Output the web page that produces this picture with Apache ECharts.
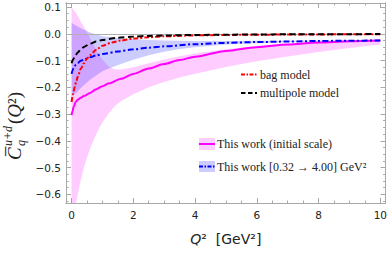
<!DOCTYPE html>
<html><head><meta charset="utf-8">
<script src="https://cdn.jsdelivr.net/npm/echarts@6/dist/echarts.min.js"></script>
<style>html,body{margin:0;padding:0;background:#fff}#c{width:390px;height:253px}</style>
</head><body><div id="c"></div>
<script>
// ---- data ----
const initQ   = [0, 0.03, 0.07, 0.14, 0.2, 0.3, 0.4, 0.6, 0.8, 1.0, 1.2, 1.6, 2.0, 2.5, 3.0, 3.5, 4.0, 5.0, 6.0, 7.0, 8.0, 9.0, 10.0];
const initVal = [-0.304, -0.29, -0.272, -0.254, -0.247, -0.239, -0.233, -0.221, -0.207, -0.196, -0.186, -0.168, -0.150, -0.130, -0.113, -0.098, -0.086, -0.064, -0.050, -0.040, -0.033, -0.028, -0.025];

const evolQ   = [0, 0.03, 0.07, 0.14, 0.2, 0.3, 0.4, 0.6, 0.8, 1.0, 1.5, 2.0, 2.5, 3.0, 4.0, 5.0, 6.0, 7.0, 8.0, 9.0, 10.0];
const evolVal = [-0.150, -0.138, -0.126, -0.116, -0.109, -0.101, -0.096, -0.088, -0.081, -0.076, -0.066, -0.058, -0.052, -0.047, -0.039, -0.034, -0.031, -0.029, -0.027, -0.026, -0.025];

const bagQ   = [0, 0.05, 0.1, 0.15, 0.2, 0.3, 0.4, 0.5, 0.6, 0.8, 1.0, 1.3, 1.6, 2.0, 2.5, 3.0, 4.0, 5.0, 6.0, 7.0, 8.0, 9.0, 10.0];
const bagVal = [-0.255, -0.225, -0.200, -0.180, -0.160, -0.131, -0.110, -0.093, -0.080, -0.060, -0.045, -0.033, -0.025, -0.018, -0.013, -0.0095, -0.006, -0.0045, -0.0035, -0.003, -0.0025, -0.002, -0.002];

const multiQ   = [0, 0.05, 0.1, 0.2, 0.3, 0.4, 0.6, 0.8, 1.0, 1.5, 2.0, 2.5, 3.0, 4.0, 5.0, 6.0, 7.0, 8.0, 9.0, 10.0];
const multiVal = [-0.110, -0.097, -0.086, -0.070, -0.058, -0.049, -0.037, -0.029, -0.023, -0.015, -0.0105, -0.008, -0.0065, -0.0045, -0.0033, -0.0026, -0.002, -0.0017, -0.0014, -0.0012];

const bandQ    = [0, 0.05, 0.1, 0.14, 0.2, 0.3, 0.4, 0.5, 0.6, 0.75, 0.9, 1.0, 1.2, 1.4, 1.6, 2.0, 2.5, 3.0, 3.5, 4.0, 5.0, 6.0, 7.0, 8.0, 9.0, 10.0];
const initHigh = [0.100, 0.092, 0.084, 0.078, 0.066, 0.046, 0.026, 0.005, -0.017, -0.050, -0.080, -0.097, -0.122, -0.133, -0.134, -0.125, -0.110, -0.096, -0.084, -0.074, -0.058, -0.046, -0.037, -0.031, -0.026, -0.023];
const initLow  = [-0.76, -0.72, -0.67, -0.635, -0.600, -0.547, -0.500, -0.462, -0.430, -0.388, -0.352, -0.332, -0.298, -0.270, -0.252, -0.226, -0.200, -0.180, -0.163, -0.149, -0.124, -0.103, -0.085, -0.068, -0.053, -0.040];
const evolHigh = [0.040, 0.037, 0.034, 0.031, 0.027, 0.021, 0.015, 0.010, 0.005, -0.001, -0.006, -0.009, -0.012, -0.015, -0.017, -0.020, -0.023, -0.025, -0.026, -0.027, -0.027, -0.026, -0.026, -0.025, -0.025, -0.024];
const evolLow  = [-0.235, -0.230, -0.225, -0.222, -0.215, -0.203, -0.192, -0.182, -0.172, -0.160, -0.148, -0.140, -0.130, -0.121, -0.113, -0.097, -0.080, -0.067, -0.057, -0.050, -0.040, -0.035, -0.031, -0.029, -0.027, -0.026];

const xTickLabels = [0, 2, 4, 6, 8, 10];
const yTickLabels = [-0.6, -0.5, -0.4, -0.3, -0.2, -0.1, 0.0, 0.1];

// ---- layout ----
const XMIN = -0.18, XMAX = 10.17, YMIN = -0.6325, YMAX = 0.115;
const FRAME = '#a8a8a8';
const xMinor = []; for (let i = 0; i <= 20; i++) { const v = i * 0.5; if (v % 2 !== 0) xMinor.push(v); }
const yMinor = []; for (let i = -25; i <= 4; i++) { const v = i * 0.025; if (Math.abs(v * 10 - Math.round(v * 10)) > 1e-6) yMinor.push(+v.toFixed(3)); }

const zip = (a, b) => a.map((q, i) => [q, b[i]]);

function xAxisDef(pos, major, labels) {
  return {
    type: 'value', position: pos, min: XMIN, max: XMAX,
    axisLine: { show: true, onZero: false, lineStyle: { color: FRAME, width: 1 } },
    axisTick: { show: true, inside: true, length: major ? 5 : 2.5, customValues: major ? xTickLabels : xMinor, lineStyle: { color: FRAME, width: 1 } },
    axisLabel: labels ? { show: true, customValues: xTickLabels, margin: 6, color: '#222', fontFamily: 'DejaVu Sans', fontSize: 10.5, formatter: v => String(v) } : { show: false },
    splitLine: { show: false }
  };
}
function yAxisDef(pos, major, labels) {
  return {
    type: 'value', position: pos, min: YMIN, max: YMAX,
    axisLine: { show: true, onZero: false, lineStyle: { color: FRAME, width: 1 } },
    axisTick: { show: true, inside: true, length: major ? 5 : 2.5, customValues: major ? yTickLabels : yMinor, lineStyle: { color: FRAME, width: 1 } },
    axisLabel: labels ? { show: true, customValues: yTickLabels, margin: 5, color: '#222', fontFamily: 'DejaVu Sans', fontSize: 10.5,
      formatter: v => (v < -1e-9 ? '\u2212' : '') + Math.abs(v).toFixed(1) } : { show: false },
    splitLine: { show: false }
  };
}

const xAx = [xAxisDef('bottom', true, true), xAxisDef('bottom', false, false), xAxisDef('top', true, false), xAxisDef('top', false, false)];
xAx[0].name = '{i|Q}\u00b2  [GeV\u00b2]';
xAx[0].nameLocation = 'middle';
xAx[0].nameGap = 29;
xAx[0].nameTextStyle = { fontFamily: 'DejaVu Sans', fontSize: 14, color: '#222', rich: { i: { fontFamily: 'DejaVu Sans', fontStyle: 'italic', fontSize: 14, color: '#222' } } };
const yAx = [yAxisDef('left', true, true), yAxisDef('left', false, false), yAxisDef('right', true, false), yAxisDef('right', false, false)];

function bandSeries(name, low, high, color, z) {
  return {
    type: 'custom', name: name, z: z, silent: true,
    data: bandQ.map((q, i) => [q, low[i], high[i]]),
    encode: { x: 0, y: [1, 2] },
    renderItem: function (params, api) {
      if (params.dataIndex !== 0) return null;
      const up = bandQ.map((q, i) => api.coord([q, high[i]]));
      const dn = bandQ.map((q, i) => api.coord([q, low[i]])).reverse();
      const cs = params.coordSys;
      return {
        type: 'polygon', shape: { points: up.concat(dn) }, style: { fill: color },
        clipPath: { type: 'rect', shape: { x: cs.x, y: cs.y, width: cs.width, height: cs.height } }
      };
    }
  };
}

const series = [
  bandSeries('initBand', initLow, initHigh, 'rgba(255,0,255,0.2)', 1),
  bandSeries('evolBand', evolLow, evolHigh, 'rgba(0,0,255,0.2)', 1),
  { type: 'line', name: 'This work (initial scale)', data: zip(initQ, initVal), symbol: 'none', smooth: 0.3, smoothMonotone: 'x', z: 3,
    lineStyle: { color: '#ff00ff', width: 2 },
    markLine: { silent: true, symbol: 'none', label: { show: false }, lineStyle: { color: '#b0b0b0', width: 1, type: 'solid' }, data: [{ yAxis: 0 }], z: 2 } },
  { type: 'line', name: 'This work evolved', data: zip(evolQ, evolVal), symbol: 'none', smooth: 0.3, smoothMonotone: 'x', z: 4,
    lineStyle: { color: '#0000ff', width: 2, type: [6, 2.5, 2, 2.5] } },
  { type: 'line', name: 'bag model', data: zip(bagQ, bagVal), symbol: 'none', smooth: 0.3, smoothMonotone: 'x', z: 5,
    lineStyle: { color: '#ff0000', width: 2, type: [5, 2, 2, 2] } },
  { type: 'line', name: 'multipole model', data: zip(multiQ, multiVal), symbol: 'none', smooth: 0.3, smoothMonotone: 'x', z: 6,
    lineStyle: { color: '#000000', width: 2, type: [6, 3.5] } }
];

const serif = 'Liberation Serif';
const graphic = [
  // legend
  { type: 'line', shape: { x1: 241, y1: 74.5, x2: 257, y2: 74.5 }, style: { stroke: '#ff0000', lineWidth: 2, lineDash: [4, 1.5, 1.5, 1.5] } },
  { type: 'text', x: 260, y: 74.5, style: { text: 'bag model', font: '12px "Liberation Serif"', fill: '#222', verticalAlign: 'middle' } },
  { type: 'line', shape: { x1: 241, y1: 93, x2: 257, y2: 93 }, style: { stroke: '#000', lineWidth: 2, lineDash: [4.5, 2.5] } },
  { type: 'text', x: 260, y: 93, style: { text: 'multipole model', font: '12px "Liberation Serif"', fill: '#222', verticalAlign: 'middle' } },
  { type: 'rect', shape: { x: 199, y: 138, width: 16, height: 12 }, style: { fill: 'rgba(255,0,255,0.2)' } },
  { type: 'line', shape: { x1: 199, y1: 144, x2: 215, y2: 144 }, style: { stroke: '#ff00ff', lineWidth: 2 } },
  { type: 'text', x: 217, y: 144, style: { text: 'This work (initial scale)', font: '12px "Liberation Serif"', fill: '#222', verticalAlign: 'middle' } },
  { type: 'rect', shape: { x: 199, y: 161, width: 16, height: 11 }, style: { fill: 'rgba(0,0,255,0.2)' } },
  { type: 'line', shape: { x1: 199, y1: 166.5, x2: 215, y2: 166.5 }, style: { stroke: '#0000ff', lineWidth: 2, lineDash: [4, 1.5, 1.5, 1.5] } },
  { type: 'text', x: 217, y: 166.5, style: { text: 'This work [0.32 \u2192 4.00] GeV\u00b2', font: '12px "Liberation Serif"', fill: '#222', verticalAlign: 'middle' } },
  // y-axis title, rotated
  { type: 'group', x: 14, y: 114, rotation: Math.PI / 2, children: [
    { type: 'text', x: -46, y: 0, style: { text: 'C\u0305', font: 'italic 19px "Liberation Serif"', fill: '#222', verticalAlign: 'middle', align: 'left' } },
    { type: 'text', x: -32, y: -6, style: { text: 'u+d', font: 'italic 12px "Liberation Serif"', fill: '#222', verticalAlign: 'middle', align: 'left' } },
    { type: 'text', x: -32, y: 7, style: { text: 'q', font: 'italic 12px "Liberation Serif"', fill: '#222', verticalAlign: 'middle', align: 'left' } },
    { type: 'text', x: -10, y: 0, style: { text: '{n|(}{i|Q}{n|\u00b2)}', fill: '#222', verticalAlign: 'middle', align: 'left',
      rich: { n: { fontFamily: serif, fontSize: 19, fill: '#222' }, i: { fontFamily: serif, fontStyle: 'italic', fontSize: 19, fill: '#222' } } } }
  ] }
];

const chart = echarts.init(document.getElementById('c'), null, { renderer: 'svg', width: 390, height: 253 });
chart.setOption({
  animation: false,
  backgroundColor: '#fff',
  grid: { left: 66, right: 1.5, top: 3, bottom: 50, containLabel: false },
  xAxis: xAx,
  yAxis: yAx,
  series: series,
  graphic: graphic
});
</script></body></html>
